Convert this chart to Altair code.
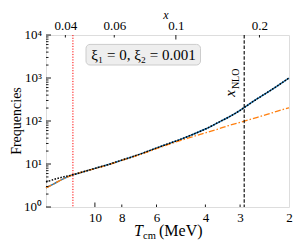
import altair as alt
import pandas as pd

# ---- data ----
T_cm = [15, 14, 13, 12, 11, 10, 9, 8, 7, 6, 5, 4.5, 4, 3.6, 3.3, 3.0, 2.8, 2.6, 2.4, 2.2, 2.0]
freq_blue = [2.8, 3.5, 4.5, 5.6, 6.6, 7.9, 9.6, 12.3, 16.3, 23.5, 36, 47, 65, 92, 123, 177, 240, 330, 457, 660, 1000]
freq_orange = [2.8, 3.5, 4.5, 5.6, 6.6, 7.8, 9.5, 12.1, 16.0, 22.8, 34, 42, 53, 65, 78, 93, 106, 122, 142, 170, 203]
freq_dotted = [3.8, 4.4, 5.0, 5.6, 6.6, 7.9, 9.6, 12.3, 16.3, 23.5, 36, 47, 65, 92, 123, 177, 240, 330, 457, 660, 1000]
T_red_line = [12.0]
T_nlo_line = [2.9]

M_E = 0.511
bottom_labels = [10, 8, 6, 4, 3, 2]
bottom_major_ticks = [10]
bottom_minor_ticks = [8, 6, 4, 3]
top_labels = [0.04, 0.06, 0.1, 0.2]
top_major_ticks = [0.1]
top_minor_ticks = [0.04, 0.06, 0.2]
y_labels = [1, 10, 100, 1000, 10000]
y_label_text = ["10⁰", "10¹", "10²", "10³", "10⁴"]
y_minor_ticks = [k * 10 ** d for d in range(4) for k in range(2, 10)]

W, H = 243, 172
FONT = "Liberation Serif"

df = pd.DataFrame({"T": T_cm, "blue": freq_blue, "orange": freq_orange, "dotted": freq_dotted})

xscale = alt.Scale(type="log", domain=[2, 15], reverse=True, nice=False)
yscale = alt.Scale(type="log", domain=[1, 10000], nice=False)

bottom_axis = alt.Axis(values=bottom_labels, tickSize=0, labelPadding=4, domain=False, grid=False,
                       title=None, labelFont=FONT, labelFontSize=13, labelColor="black",
                       labelFlush=False, labelOverlap=False, labelBound=False, labelExpr="datum.value")
top_axis = alt.Axis(orient="top", values=[M_E / v for v in top_labels], tickSize=0, labelPadding=3,
                    domain=False, grid=False, title=None, labelFont=FONT, labelFontSize=13,
                    labelColor="black", labelFlush=False, labelOverlap=False, labelBound=False,
                    labelExpr="format(0.511/datum.value, '.2~f')")

blue = alt.Chart(df).mark_line(color="#1f77b4", strokeWidth=1.5, interpolate="monotone").encode(
    x=alt.X("T:Q", scale=xscale, axis=bottom_axis),
    y=alt.Y("blue:Q", scale=yscale, axis=None),
)
orange = alt.Chart(df).mark_line(color="#ff7f0e", strokeWidth=1.3, strokeDash=[6, 2, 1.5, 2],
                                 interpolate="monotone").encode(
    x=alt.X("T:Q", scale=xscale, axis=top_axis),
    y=alt.Y("orange:Q", scale=yscale, axis=None),
)
dotted = alt.Chart(df).mark_line(color="black", strokeWidth=1.5, strokeDash=[1.5, 1.5],
                                 interpolate="monotone").encode(
    x=alt.X("T:Q", scale=xscale, axis=None),
    y=alt.Y("dotted:Q", scale=yscale, axis=None),
)

red_rule = alt.Chart(pd.DataFrame({"T": T_red_line})).mark_rule(
    color="red", strokeWidth=1, strokeDash=[1.2, 1.5]).encode(x=alt.X("T:Q", scale=xscale, axis=None))
nlo_rule = alt.Chart(pd.DataFrame({"T": T_nlo_line})).mark_rule(
    color="black", strokeWidth=1.1, strokeDash=[3.5, 1.8]).encode(x=alt.X("T:Q", scale=xscale, axis=None))


def xticks(values, y0, y1):
    return alt.Chart(pd.DataFrame({"T": values})).mark_rule(color="black", strokeWidth=0.9).encode(
        x=alt.X("T:Q", scale=xscale, axis=None), y=alt.value(y0), y2=alt.value(y1))


def yticks(values, length):
    return alt.Chart(pd.DataFrame({"v": values})).mark_rule(color="black", strokeWidth=0.9).encode(
        y=alt.Y("v:Q", scale=yscale, axis=None), x=alt.value(0), x2=alt.value(length))


ticks = [
    xticks(bottom_major_ticks, H, H - 4.5),
    xticks(bottom_minor_ticks, H, H - 2.5),
    xticks([M_E / v for v in top_major_ticks], 0, 4.5),
    xticks([M_E / v for v in top_minor_ticks], 0, 2.5),
    yticks(y_labels, 5),
    yticks(y_minor_ticks, 2.5),
]

# y tick labels (10^n) placed through the y scale
y_label_layer = alt.Chart(pd.DataFrame({"v": y_labels, "lab": y_label_text})).mark_text(
    font=FONT, fontSize=13, color="black", align="right", baseline="middle").encode(
    y=alt.Y("v:Q", scale=yscale, axis=None), x=alt.value(-4), text="lab:N")

one = pd.DataFrame({"a": [0]})


def label(text, x, y, size, **kw):
    return alt.Chart(one).mark_text(text=text, font=FONT, fontSize=size, color="black", **kw).encode(
        x=alt.value(x), y=alt.value(y))


legend_box = alt.Chart(one).mark_rect(fill="#eeeeee", stroke="#cccccc", strokeWidth=1, cornerRadius=4).encode(
    x=alt.value(40), x2=alt.value(154.5), y=alt.value(9.4), y2=alt.value(30))

texts = [
    label("ξ₁ = 0, ξ₂ = 0.001", 97.5, 19.7, 15, align="center", baseline="middle"),
    label("T", 88, 201, 16, align="left", baseline="alphabetic", fontStyle="italic"),
    label("cm", 97, 204, 10.5, align="left", baseline="alphabetic"),
    label("(MeV)", 113, 201, 16, align="left", baseline="alphabetic"),
    label("x", 120, -16.5, 12, align="center", baseline="alphabetic", fontStyle="italic"),
    label("Frequencies", -25.5, 86, 14, align="center", baseline="alphabetic", angle=270),
    label("x", 189, 61.8, 15, align="left", baseline="alphabetic", angle=270, fontStyle="italic"),
    label("NLO", 192.5, 54.1, 10, align="left", baseline="alphabetic", angle=270),
]

chart = alt.layer(
    blue, orange, legend_box, red_rule, nlo_rule, dotted, *ticks, y_label_layer, *texts
).resolve_axis(x="independent").properties(
    width=W, height=H,
    padding={"left": 38, "top": 27, "right": 5, "bottom": 35},
    autosize=alt.AutoSizeParams(type="none"),
).configure_view(stroke="black", strokeWidth=1).configure(background="white")

chart.save("out.html", embed_options={"renderer": "svg", "actions": False})
